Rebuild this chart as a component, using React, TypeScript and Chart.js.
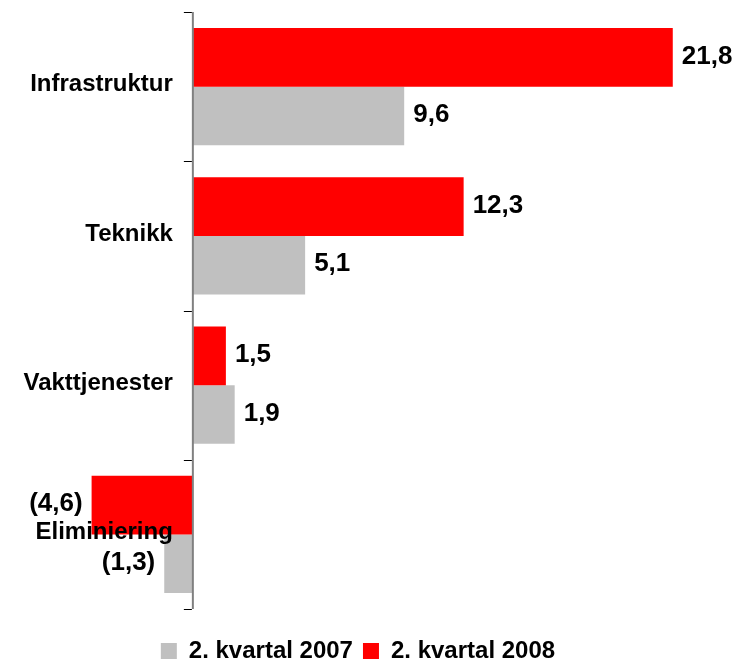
import React, { useEffect, useRef } from 'react';
import { Chart, registerables } from 'chart.js';

Chart.register(...registerables);

const categories = ['Infrastruktur', 'Teknikk', 'Vakttjenester', 'Eliminiering'];
const values2008 = [21.8, 12.3, 1.5, -4.6];
const values2007 = [9.6, 5.1, 1.9, -1.3];
const seriesLabels = ['2. kvartal 2007', '2. kvartal 2008'];
const seriesColors = ['#C0C0C0', '#FF0000'];

const FONT = "'Liberation Sans', Arial, Helvetica, sans-serif";

const fmt = (v: number) => {
  const s = Math.abs(v).toFixed(1).replace('.', ',');
  return v < 0 ? `(${s})` : s;
};

const zeroAxisPlugin = {
  id: 'zeroAxis',
  afterDatasetsDraw(chart: any) {
    const { ctx, chartArea, scales } = chart;
    const xs = scales.x;
    const ys = scales.y;
    const x0 = xs.getPixelForValue(0);
    ctx.save();
    // vertical axis at zero
    ctx.strokeStyle = '#808080';
    ctx.lineWidth = 2;
    ctx.beginPath();
    ctx.moveTo(x0, chartArea.top);
    ctx.lineTo(x0, chartArea.bottom);
    ctx.stroke();
    // tick marks between categories
    const band = (chartArea.bottom - chartArea.top) / categories.length;
    ctx.strokeStyle = '#000000';
    ctx.lineWidth = 1;
    for (let k = 0; k <= categories.length; k++) {
      const ty = Math.round(chartArea.top + k * band) + 0.5;
      ctx.beginPath();
      ctx.moveTo(x0 - 9, ty);
      ctx.lineTo(x0 - 1, ty);
      ctx.stroke();
    }
    // category labels
    ctx.fillStyle = '#000000';
    ctx.font = `bold 24px ${FONT}`;
    ctx.textAlign = 'right';
    ctx.textBaseline = 'middle';
    categories.forEach((c, i) => {
      ctx.fillText(c, x0 - 20, ys.getPixelForValue(i) - 2);
    });
    // value labels
    ctx.font = `bold 26px ${FONT}`;
    chart.data.datasets.forEach((ds: any, di: number) => {
      const meta = chart.getDatasetMeta(di);
      meta.data.forEach((bar: any, i: number) => {
        const v = ds.data[i] as number;
        const { x: bx, y: by } = bar.getProps(['x', 'y'], true);
        ctx.textAlign = v < 0 ? 'right' : 'left';
        ctx.fillText(fmt(v), v < 0 ? bx - 9 : bx + 9, by - 1);
      });
    });
    ctx.restore();
  },
};

export default function App() {
  const ref = useRef<HTMLCanvasElement | null>(null);
  useEffect(() => {
    if (!ref.current) return;
    const chart = new Chart(ref.current, {
      type: 'bar',
      data: {
        labels: categories,
        datasets: [
          {
            label: seriesLabels[1],
            data: values2008,
            backgroundColor: seriesColors[1],
            borderWidth: 0,
            categoryPercentage: 0.784,
            barPercentage: 1,
          },
          {
            label: seriesLabels[0],
            data: values2007,
            backgroundColor: seriesColors[0],
            borderWidth: 0,
            categoryPercentage: 0.784,
            barPercentage: 1,
          },
        ],
      },
      options: {
        indexAxis: 'y',
        responsive: false,
        animation: false,
        layout: { padding: { left: 5.74, right: 27.8, top: 12, bottom: 0 } },
        scales: {
          x: {
            min: -8.5,
            max: 23.5,
            position: 'bottom',
            grid: { display: false },
            border: { display: false },
            ticks: { display: false },
            afterFit: (s: any) => {
              s.height = 20;
            },
          },
          y: { display: false },
        },
        plugins: {
          legend: {
            position: 'bottom',
            reverse: true,
            maxHeight: 34,
            labels: {
              boxWidth: 16,
              boxHeight: 16,
              padding: 10,
              color: '#000000',
              font: { family: FONT, size: 24, weight: 'bold' },
            },
          },
          tooltip: { enabled: false },
        },
      } as any,
      plugins: [zeroAxisPlugin],
    });
    return () => chart.destroy();
  }, []);
  return (
    <div style={{ position: 'absolute', left: 0, top: 0, width: 738, height: 663, background: '#fff' }}>
      <canvas ref={ref} width={738} height={663} style={{ display: 'block' }} />
    </div>
  );
}
